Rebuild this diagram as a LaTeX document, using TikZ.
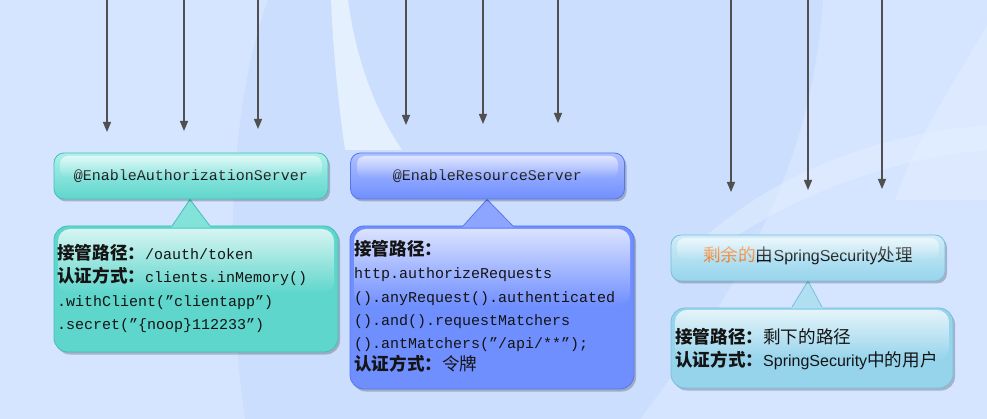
\documentclass[tikz,border=0pt]{standalone}
\usepackage{fontspec}
\setmainfont{Liberation Sans}
\newfontfamily\cjk{Noto Sans CJK SC}
\newfontfamily\codefont{Liberation Mono}
\usetikzlibrary{arrows.meta,shadows,fadings}
\definecolor{tealA}{RGB}{94,214,204}
\definecolor{tealL}{RGB}{176,240,235}
\definecolor{tealE}{RGB}{70,190,182}
\definecolor{blueA}{RGB}{112,143,255}
\definecolor{blueL}{RGB}{176,193,255}
\definecolor{blueE}{RGB}{88,118,235}
\definecolor{skyA}{RGB}{150,212,236}
\definecolor{skyL}{RGB}{208,237,248}
\definecolor{skyE}{RGB}{120,190,222}
\definecolor{bgA}{RGB}{213,229,255}
\definecolor{bgD}{RGB}{203,222,253}
\definecolor{bgL}{RGB}{229,240,255}
\definecolor{orangeT}{RGB}{240,128,40}
\definecolor{arrowgray}{RGB}{80,80,80}
\definecolor{ink}{RGB}{20,20,20}
\newcommand\lab[1]{{\cjk\bfseries\fontsize{17.6}{20}\selectfont #1}}
\newcommand\cjr[1]{{\cjk\fontsize{17.6}{20}\selectfont #1}}
\newcommand\cd[1]{{\codefont #1}}
\tikzset{
  arr/.style={draw=arrowgray, line width=1.3pt, -{Triangle[length=10pt,width=8pt]}},
  hdrbox/.style={rounded corners=10pt, minimum width=274pt, minimum height=46pt,
    inner sep=0pt, text=ink, line width=0.8pt,
    drop shadow={shadow xshift=2pt,shadow yshift=-2.5pt,fill=black,opacity=0.22}},
  bodybox/.style={rounded corners=14pt, inner sep=0pt, line width=0.8pt,
    drop shadow={shadow xshift=2pt,shadow yshift=-2.5pt,fill=black,opacity=0.22}},
  gloss/.style={fill=white, path fading=south, fill opacity=0.75},
  txt/.style={anchor=base west, inner sep=0pt, text=ink, font=\fontsize{15}{18}\selectfont},
}
\begin{document}
\begin{tikzpicture}[x=1pt,y=-1pt]
% background
\fill[bgA] (0,0) rectangle (987,419);
\fill[bgD] (268,0) -- (823,0) .. controls (812,150) and (760,260) .. (640,419)
  -- (245,419) .. controls (222,250) and (232,100) .. (268,0) -- cycle;
\fill[bgL] (331,0) -- (348,0) .. controls (356,60) and (375,110) .. (402,150)
  -- (345,150) .. controls (338,100) and (333,50) .. (331,0) -- cycle;
\fill[bgL, opacity=0.45] (690,250) .. controls (770,175) and (870,135) .. (987,125)
  -- (987,150) .. controls (880,160) and (780,200) .. (700,262) -- cycle;
\fill[bgL, opacity=0.45] (987,25) .. controls (950,90) and (915,140) .. (895,200)
  -- (987,200) -- cycle;
\useasboundingbox (0,0) rectangle (987,419);

% arrows
\foreach \x/\y [count=\i] in {107/132,184/131,258/129,406/125,483/124,558/123,731/192,808/190,882/189}{
  \coordinate (s\i) at (\x,0);
  \coordinate (e\i) at (\x,\y);
  \draw[arr] (s\i) -- (e\i);
}

% ---------- left ----------
\node[bodybox, fill=tealA, draw=tealE, minimum width=284pt, minimum height=126pt] (b1) at (196,289) {};
\fill[tealA!55!tealL] (171.3,227.4) -- (190,199) -- (210.7,227.4) -- cycle;
\draw[tealE, line width=0.8pt] (172,226) -- (190,199.5) -- (210,226);
\fill[gloss, rounded corners=12pt] (58,229) rectangle (334,294);
\node[hdrbox, top color=tealL, bottom color=tealA, draw=tealE, text height=10pt, text depth=0pt] (h1) at (191,176)
  {\fontsize{15}{18}\selectfont\codefont @EnableAuthorizationServer};
\fill[gloss, rounded corners=8pt, fill opacity=0.6] (60,156) rectangle (322,178);
\node[txt] (t1a) at (57,260) {\lab{接管路径：}\cd{/oauth/token}};
\node[txt] (t1b) at (57,283) {\lab{认证方式：}\cd{clients.inMemory()}};
\node[txt] (t1c) at (57,306) {\cd{.withClient(”clientapp”)}};
\node[txt] (t1d) at (57,329) {\cd{.secret(”\{noop\}112233”)}};

% ---------- middle ----------
\node[bodybox, fill=blueA, draw=blueE, minimum width=284pt, minimum height=163pt] (b2) at (492,307.5) {};
\fill[blueA!55!blueL] (462.3,227.4) -- (487,199) -- (513.7,227.4) -- cycle;
\draw[blueE, line width=0.8pt] (463,226) -- (487,199.5) -- (513,226);
\fill[gloss, rounded corners=12pt] (354,229) rectangle (630,306);
\node[hdrbox, top color=blueL, bottom color=blueA, draw=blueE, text height=10pt, text depth=0pt] (h2) at (487.5,176)
  {\fontsize{15}{18}\selectfont\codefont @EnableResourceServer};
\fill[gloss, rounded corners=8pt, fill opacity=0.6] (357,156) rectangle (618,178);
\node[txt] (t2a) at (354,256) {\lab{接管路径：}};
\node[txt] (t2b) at (354,279) {\cd{http.authorizeRequests}};
\node[txt] (t2c) at (354,302) {\cd{().anyRequest().authenticated}};
\node[txt] (t2d) at (354,325) {\cd{().and().requestMatchers}};
\node[txt] (t2e) at (354,348) {\cd{().antMatchers(”/api/**”);}};
\node[txt] (t2f) at (354,370) {\lab{认证方式：}\cjr{令牌}};

% ---------- right ----------
\node[bodybox, fill=skyA, draw=skyE, minimum width=282pt, minimum height=80pt] (b3) at (812,348) {};
\fill[skyA!55!skyL] (791.5,308.4) -- (808,280.5) -- (822.6,308.4) -- cycle;
\draw[skyE, line width=0.8pt] (792,307) -- (808,281) -- (822,307);
\fill[gloss, rounded corners=12pt] (675,310) rectangle (949,360);
\node[hdrbox, top color=skyL, bottom color=skyA, draw=skyE, text height=8pt, text depth=0pt] (h3) at (808,258)
  {\fontsize{16}{18}\selectfont{\cjk\fontsize{17.6}{20}\selectfont\color{orangeT}剩余的}\cjr{由}SpringSecurity\cjr{处理}};
\fill[gloss, rounded corners=8pt, fill opacity=0.6] (677,238) rectangle (939,260);
\node[txt, font=\fontsize{16}{18}\selectfont] (t3a) at (675,343) {\lab{接管路径：}\cjr{剩下的路径}};
\node[txt, font=\fontsize{16}{18}\selectfont] (t3b) at (675,366) {\lab{认证方式：}SpringSecurity\cjr{中的用户}};
\end{tikzpicture}
\end{document}
